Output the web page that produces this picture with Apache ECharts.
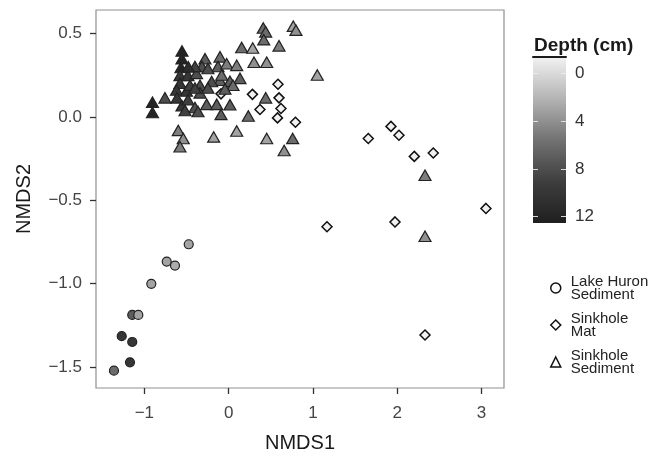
<!DOCTYPE html>
<html>
<head>
<meta charset="utf-8">
<script src="https://cdn.jsdelivr.net/npm/echarts@6/dist/echarts.min.js"></script>
<style>
html,body{margin:0;padding:0;background:#fff;}
#chart{width:652px;height:458px;}
</style>
</head>
<body>
<div id="chart"></div>
<script>
// ---- Data (NMDS1, NMDS2, depth in cm) ----
const lakeX = [-0.474,-0.735,-0.637,-0.918,-1.144,-1.072,-1.269,-1.144,-1.171,-1.361];
const lakeY = [-0.764,-0.868,-0.892,-1.001,-1.188,-1.188,-1.315,-1.350,-1.472,-1.522];
const lakeDepth = [3,3,2.5,3,7,3,10,10,10,6];

const matX = [-0.091,0.282,0.371,0.585,0.597,0.620,0.579,0.792,1.656,1.925,2.020,2.202,2.427,3.052,1.166,1.973,2.329];
const matY = [0.138,0.135,0.044,0.196,0.114,0.050,-0.006,-0.032,-0.130,-0.057,-0.110,-0.237,-0.217,-0.549,-0.659,-0.630,-1.308];
const matDepth = [-1.3,-1.3,-1.3,-1.3,-1.3,-1.3,-1.3,-1.3,-1.3,-1.3,-1.3,-1.3,-1.3,-1.3,-1.3,-1.3,-1.3];

const sedX = [-0.554,-0.554,-0.566,-0.904,-0.904,-0.578,-0.578,-0.483,-0.619,-0.501,-0.613,-0.554,
  -0.382,-0.281,-0.317,-0.459,-0.340,-0.340,-0.756,-0.483,-0.400,-0.518,-0.364,-0.261,-0.142,
  -0.103,-0.127,-0.103,0.015,0.134,0.015,-0.091,0.051,-0.024,0.095,-0.598,-0.539,-0.578,0.233,
  0.154,0.285,0.300,0.451,0.410,0.439,0.416,0.597,0.766,0.798,1.051,0.759,0.658,0.451,0.095,
  -0.178,0.439,2.329,2.329,-0.246,-0.202,-0.246,-0.044,-0.083,-0.400,-0.479,-0.400];
const sedY = [0.395,0.349,0.296,0.088,0.026,0.249,0.202,0.249,0.161,0.155,0.114,0.067,
  0.261,0.349,0.302,0.190,0.190,0.144,0.114,0.103,0.056,0.038,0.032,0.075,0.075,
  0.360,0.302,0.220,0.214,0.231,0.073,0.015,0.190,0.319,0.309,-0.081,-0.130,-0.179,0.005,
  0.416,0.413,0.328,0.328,0.533,0.510,0.463,0.426,0.544,0.520,0.251,-0.129,-0.202,-0.130,-0.085,
  -0.120,0.114,-0.350,-0.716,0.290,0.212,0.173,0.167,0.251,0.302,0.300,0.173];
const sedDepth = [12,12,12,12,12,10,10,10,10,10,10,10,
  8,7,8,9,8,8,8,9,8,9,8,7,7,
  6,7,7,7,7,7,7,6,5,5,5,4,5,6,
  6,3,4,4,6,6,6,5,3,4,3,6,4,3,3,
  3,6,5,4,8,8,8,7,6,9,11,9];

const seriesNames = ['Lake Huron\nSediment','Sinkhole\nMat','Sinkhole\nSediment'];
const xTicks = [-1,0,1,2,3];
const yTicks = [0.5,0,-0.5,-1,-1.5];
const depthTicks = [0,4,8,12];
const depthRange = [-1.36,12.53];
const grays = ['#f2f2f2','#b4b4b4','#727272','#3e3e3e','#1f1f1f'];

function zip(xs,ys,ds){return xs.map((x,i)=>[x,ys[i],ds[i]]);}
function minus(s){return s.replace('-','\u2212');}

const FONT = 'Liberation Sans, Arial, sans-serif';
const chart = echarts.init(document.getElementById('chart'));

const gradStops = grays.map((c,i)=>({offset:i/(grays.length-1),color:c}));
const legendStyle = {color:'#fff',borderColor:'#111',borderWidth:1.5};
const cbTick = {show:true,inside:true,length:5,customValues:depthTicks,lineStyle:{color:'rgba(235,235,235,0.9)',width:1}};

const option = {
  backgroundColor:'#fff',
  animation:false,
  title:{
    text:'Depth (cm)', left:529, top:31,
    textStyle:{fontFamily:FONT,fontSize:19,fontWeight:'bold',color:'#1a1a1a'}
  },
  grid:[
    {left:96, top:10, width:408, height:387, show:true, borderColor:'#8f8f8f', borderWidth:1.2, backgroundColor:'#fff'},
    {left:533, top:57, width:33, height:166, show:true, borderWidth:0,
     backgroundColor:{type:'linear',x:0,y:0,x2:0,y2:1,colorStops:gradStops}}
  ],
  xAxis:[
    {gridIndex:0, type:'value', min:-1.574, max:3.266,
     name:'NMDS1', nameLocation:'middle', nameGap:45,
     nameTextStyle:{fontFamily:FONT,fontSize:20,color:'#1a1a1a'},
     axisLine:{show:false,onZero:false}, splitLine:{show:false},
     axisTick:{show:true,length:6,customValues:xTicks,lineStyle:{color:'#333',width:1.3}},
     axisLabel:{customValues:xTicks,margin:17,fontFamily:FONT,fontSize:17,color:'#444',
       formatter:v=>minus(String(v))}},
    {gridIndex:1, type:'value', min:0, max:1, position:'top',
     axisLine:{show:true,onZero:false,lineStyle:{color:'#1a1a1a',width:2}},
     axisTick:{show:false}, axisLabel:{show:false}, splitLine:{show:false}}
  ],
  yAxis:[
    {gridIndex:0, type:'value', min:-1.626, max:0.641,
     name:'NMDS2', nameLocation:'middle', nameGap:62,
     nameTextStyle:{fontFamily:FONT,fontSize:20,color:'#1a1a1a'},
     axisLine:{show:false,onZero:false}, splitLine:{show:false},
     axisTick:{show:true,length:6,customValues:yTicks,lineStyle:{color:'#333',width:1.3}},
     axisLabel:{customValues:yTicks,margin:14,fontFamily:FONT,fontSize:17,color:'#444',
       formatter:v=>minus(v.toFixed(1))}},
    {gridIndex:1, type:'value', min:depthRange[0], max:depthRange[1], inverse:true, position:'right',
     axisLine:{show:false,onZero:false}, splitLine:{show:false},
     axisTick:cbTick,
     axisLabel:{customValues:depthTicks,margin:9,fontFamily:FONT,fontSize:17,color:'#333'}},
    {gridIndex:1, type:'value', min:depthRange[0], max:depthRange[1], inverse:true, position:'left',
     axisLine:{show:false,onZero:false}, splitLine:{show:false},
     axisTick:cbTick,
     axisLabel:{show:false}}
  ],
  visualMap:{
    type:'continuous', show:false, dimension:2, seriesIndex:[0,1,2],
    min:depthRange[0], max:depthRange[1], inRange:{color:grays}
  },
  legend:{
    orient:'vertical', left:545, top:269, itemWidth:10, itemHeight:10, itemGap:9,
    textStyle:{fontFamily:FONT,fontSize:15,lineHeight:13,color:'#222',padding:[0,0,0,5]},
    data:[
      {name:seriesNames[0], icon:'circle', itemStyle:legendStyle},
      {name:seriesNames[1], icon:'diamond', itemStyle:legendStyle},
      {name:seriesNames[2], icon:'triangle', itemStyle:legendStyle}
    ]
  },
  series:[
    {name:seriesNames[0], type:'scatter', xAxisIndex:0, yAxisIndex:0, symbol:'circle', symbolSize:9,
     itemStyle:{borderColor:'#222',borderWidth:1.2,opacity:1}, data:zip(lakeX,lakeY,lakeDepth)},
    {name:seriesNames[1], type:'scatter', xAxisIndex:0, yAxisIndex:0, symbol:'diamond', symbolSize:[10,10],
     itemStyle:{borderColor:'#111',borderWidth:1.5,opacity:1}, data:zip(matX,matY,matDepth)},
    {name:seriesNames[2], type:'scatter', xAxisIndex:0, yAxisIndex:0, symbol:'triangle', symbolSize:[12,10.5],
     itemStyle:{borderColor:'#222',borderWidth:1.2,opacity:1}, data:zip(sedX,sedY,sedDepth)}
  ]
};
chart.setOption(option);
</script>
</body>
</html>
